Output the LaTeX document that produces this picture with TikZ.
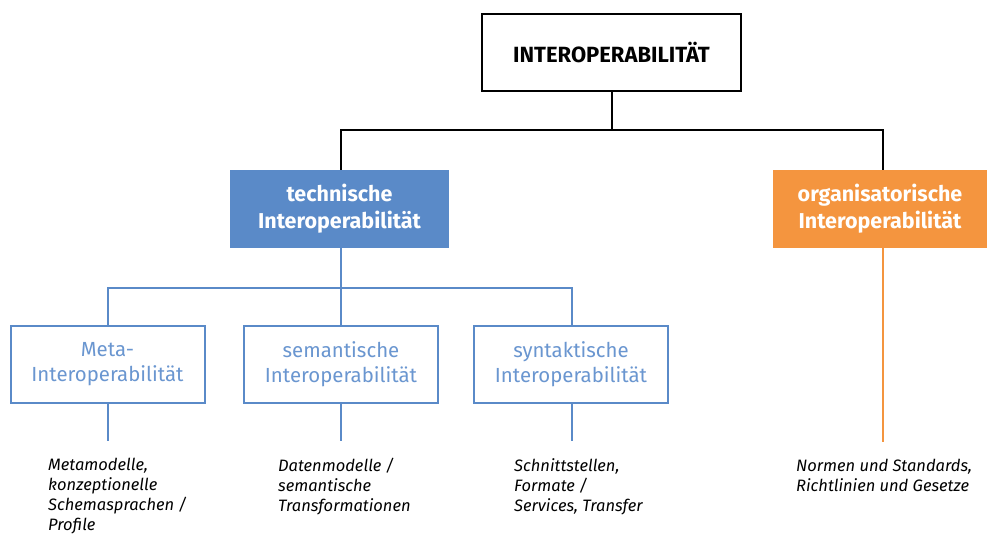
\documentclass[tikz,border=0pt]{standalone}
\usepackage{fontspec}
\setmainfont{Fira Sans}
\begin{document}
\definecolor{techblue}{HTML}{5A8AC8}
\definecolor{lightblue}{HTML}{6A96D0}
\definecolor{orgorange}{HTML}{F4953F}
\begin{tikzpicture}[x=1pt,y=-1pt,
  rootbox/.style={draw=black,line width=2pt,fill=white,minimum width=259pt,minimum height=77pt,
    font=\fontsize{22}{26}\selectfont\bfseries},
  mainbox/.style={minimum width=219pt,minimum height=78pt,align=center,text=white,
    font=\fontsize{21.5}{27}\selectfont\bfseries},
  subbox/.style={draw=techblue,line width=2pt,fill=white,minimum width=194pt,minimum height=77pt,
    align=center,text=lightblue,font=\fontsize{20.4}{25}\selectfont},
  % anchored at the baseline of the last line
  note/.style={anchor=base west,align=left,font=\fontsize{16.5}{19.7}\selectfont\itshape,inner sep=0pt},
  blk/.style={draw=black,line width=2pt},
  blu/.style={draw=techblue,line width=2pt},
  org/.style={draw=orgorange,line width=2pt}]
\useasboundingbox (0,0) rectangle (987,533);

% hierarchy connectors
\coordinate (rootfork) at (611.5,130);
\coordinate (techfork) at (341,288);

% top level
\node[rootbox] (root) at (611.5,52.5) {INTEROPERABILITÄT};
\node[mainbox,fill=techblue] (tech) at (339.5,209) {technische\\Interoperabilität};
\node[mainbox,fill=orgorange,minimum width=214pt] (org) at (880,209) {organisatorische\\Interoperabilität};

\draw[blk] (root.south) -- (rootfork);
\draw[blk] (rootfork) -| (tech.north -| 341,0);
\draw[blk] (rootfork) -| (883,170);

% technical sub-levels
\node[subbox] (meta) at (107.5,364.5) {Meta-\\Interoperabilität};
\node[subbox] (sem) at (341,364.5) {semantische\\Interoperabilität};
\node[subbox] (syn) at (571,364.5) {syntaktische\\Interoperabilität};

\draw[blu] (tech.south -| techfork) -- (techfork);
\draw[blu] (techfork) -| (meta.north -| 108,0);
\draw[blu] (techfork) -| (sem.north -| 341,0);
\draw[blu] (techfork) -| (syn.north -| 572,0);

% leaf descriptions
\coordinate (metaend) at (108,441);
\coordinate (semend) at (341,441);
\coordinate (synend) at (572,441);
\coordinate (orgend) at (883,442);
\draw[blu] (meta.south -| metaend) -- (metaend);
\draw[blu] (sem.south -| semend) -- (semend);
\draw[blu] (syn.south -| synend) -- (synend);
\draw[org] (org.south -| orgend) -- (orgend);

\node[note] (metatxt) at (48,530) {Metamodelle,\\konzeptionelle\\Schemasprachen /\\Profile};
\node[note] (semtxt) at (278,511) {Datenmodelle /\\semantische\\Transformationen};
\node[note] (syntxt) at (514,511) {Schnittstellen,\\Formate /\\Services, Transfer};
\node[note] (orgtxt) at (796,491) {Normen und Standards,\\Richtlinien und Gesetze};
\end{tikzpicture}
\end{document}
